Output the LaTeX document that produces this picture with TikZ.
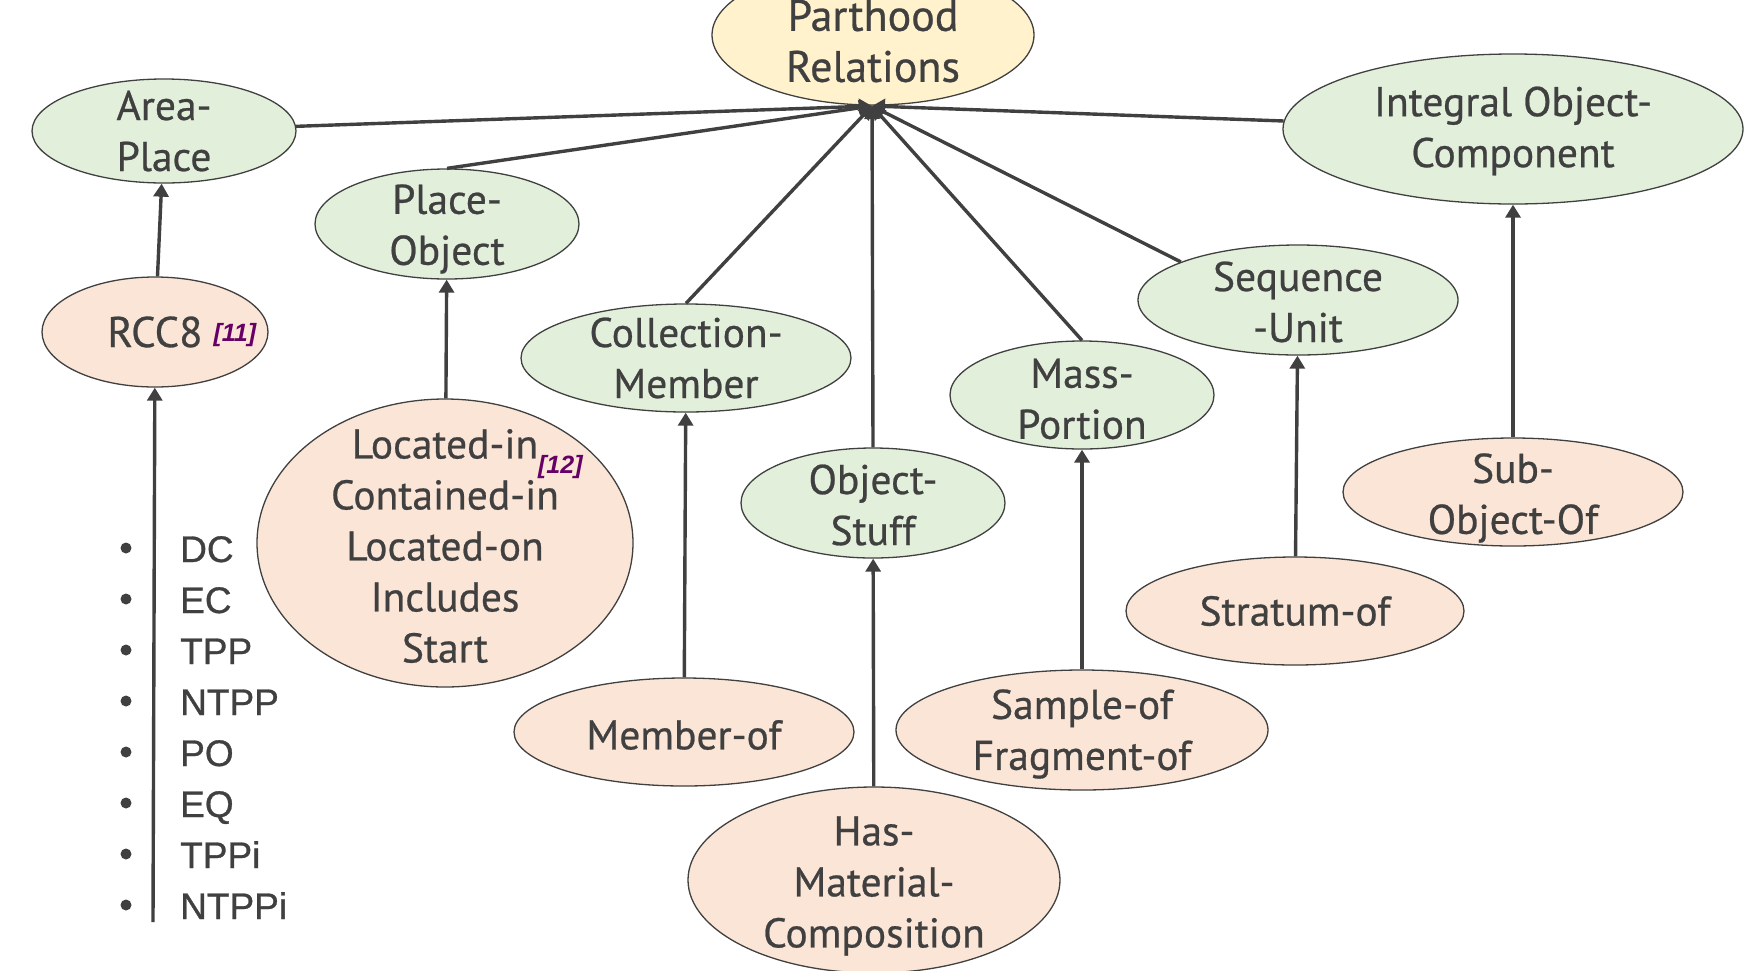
\documentclass[tikz,border=0pt]{standalone}
\usepackage{fontspec}
\setmainfont{PT Sans}[FakeBold=0.6]
\newfontfamily\listfont{Liberation Sans}[FakeBold=0.8]
\newfontfamily\citefont{Liberation Sans}
\usetikzlibrary{shapes.geometric,arrows.meta}
\definecolor{ink}{HTML}{404040}
\definecolor{leaf}{HTML}{E2EFDA}
\definecolor{peach}{HTML}{FBE5D6}
\definecolor{cream}{HTML}{FFF2CC}
\definecolor{refpurple}{HTML}{660066}
\newcommand{\refmark}[1]{{\citefont\fontsize{25}{25}\selectfont\itshape\bfseries\color{refpurple}[#1]}}
\tikzset{
  bubble/.style={ellipse, draw=ink, line width=1.3pt, inner sep=0pt},
  topbubble/.style={bubble, fill=cream},
  kindbubble/.style={bubble, fill=leaf},
  relbubble/.style={bubble, fill=peach},
  txt/.style={align=center, text=ink, inner sep=0pt, font=\fontsize{41.5}{51}\selectfont},
  link/.style={draw=ink, line width=3.4pt, -{Triangle[width=15pt,length=13pt]}},
  dot/.style={circle, fill=ink, inner sep=0pt, minimum size=11pt},
  item/.style={text=ink, inner sep=0pt, font=\listfont\fontsize{37}{44}\selectfont},
}
\begin{document}
\begin{tikzpicture}[x=1pt,y=-1pt]
\useasboundingbox (0,0) rectangle (1753,970);

% root
\node[topbubble, minimum width=322pt, minimum height=140pt,
      label={[txt, yshift=-6pt, font=\fontsize{44}{51}\selectfont]center:Parthood\\Relations}] (root) at (873,35) {};
\coordinate (hub) at (872,106);

% kinds of parthood
\node[kindbubble, minimum width=264pt, minimum height=104pt,
      label={[txt]center:Area-\\Place}] (area) at (164,131) {};
\node[kindbubble, minimum width=264pt, minimum height=110pt,
      label={[txt, yshift=-5pt]center:Place-\\Object}] (po) at (447,224) {};
\node[kindbubble, minimum width=330pt, minimum height=108pt,
      label={[txt]center:Collection-\\Member}] (cm) at (686,358) {};
\node[kindbubble, minimum width=264pt, minimum height=110pt,
      label={[txt, yshift=-2pt]center:Object-\\Stuff}] (os) at (873,503) {};
\node[kindbubble, minimum width=264pt, minimum height=108pt,
      label={[txt, yshift=-4pt]center:Mass-\\Portion}] (mp) at (1082,395) {};
\node[kindbubble, minimum width=320pt, minimum height=110pt,
      label={[txt, yshift=-2pt]center:Sequence\\-Unit}] (su) at (1298,300) {};
\node[kindbubble, minimum width=460pt, minimum height=150pt,
      label={[txt, yshift=-2pt]center:Integral Object-\\Component}] (ioc) at (1513,129) {};

% specific relations
\node[relbubble, minimum width=226pt, minimum height=110pt,
      label={[txt, font=\fontsize{43}{51}\selectfont]center:RCC8\rlap{\hspace{11pt}\raisebox{6pt}{\refmark{11}}}}] (rcc) at (155,332) {};
\node[relbubble, minimum width=376pt, minimum height=288pt,
      label={[txt, yshift=-3pt]center:Located-in\rlap{\raisebox{-15pt}{\refmark{12}}}\\Contained-in\\Located-on\\Includes\\Start}] (loc) at (445,543) {};
\node[relbubble, minimum width=340pt, minimum height=108pt,
      label={[txt, yshift=-3pt]center:Member-of}] (mem) at (684,732) {};
\node[relbubble, minimum width=372pt, minimum height=186pt,
      label={[txt, yshift=-6pt]center:Has-\\Material-\\Composition}] (hmc) at (874,880) {};
\node[relbubble, minimum width=372pt, minimum height=120pt,
      label={[txt, yshift=-4pt]center:Sample-of\\Fragment-of}] (sam) at (1082,730) {};
\node[relbubble, minimum width=338pt, minimum height=108pt,
      label={[txt]center:Stratum-of}] (str) at (1295,611) {};
\node[relbubble, minimum width=340pt, minimum height=108pt,
      label={[txt, yshift=-6pt]center:Sub-\\Object-Of}] (sub) at (1513,492) {};

% RCC8 base relations
\foreach \t [count=\i from 0] in {DC,EC,TPP,NTPP,PO,EQ,TPPi,NTPPi} {
  \node[dot] (b\i) at (126,{548+51*\i}) {};
  \node[item, anchor=base west] (it\i) at (180,{562+51*\i}) {\t};
}
\coordinate (rccfoot) at (153,922);

% links to the root
\draw[link] (area) -- (hub);
\draw[link] (po.north) -- (hub);
\draw[link] (cm.north) -- (hub);
\draw[link] (os.north) -- (hub);
\draw[link] (mp.north) -- (hub);
\draw[link] (su.162) -- (hub);
\draw[link] (ioc.178) -- (hub);

% links from relations to their kinds
\draw[link] (rcc) -- (area);
\draw[link] (rccfoot) -- (rcc);
\draw[link] (loc) -- (po);
\draw[link] (mem) -- (cm);
\draw[link] (hmc) -- (os);
\draw[link] (sam) -- (mp);
\draw[link] (str) -- (su);
\draw[link] (sub) -- (ioc);
\end{tikzpicture}
\end{document}
